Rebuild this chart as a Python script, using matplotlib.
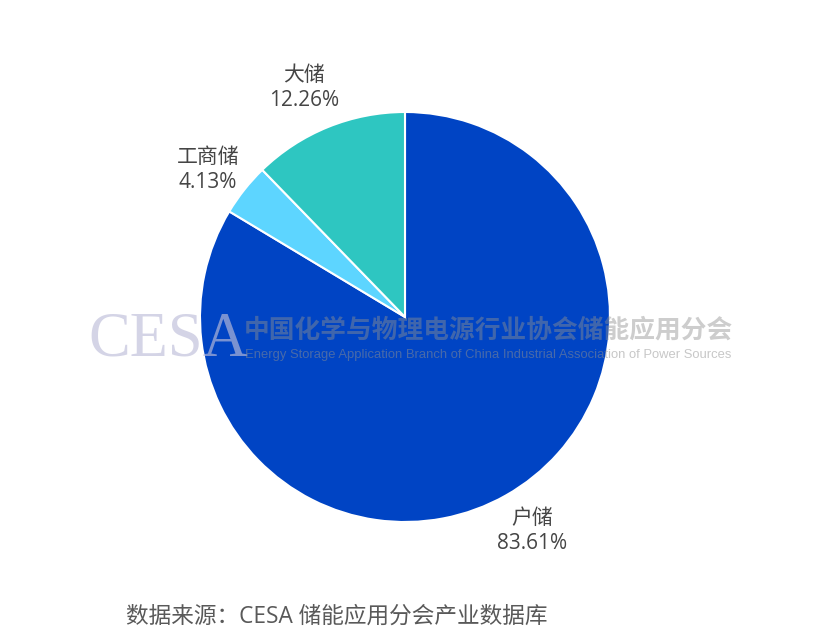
import matplotlib
matplotlib.use('Agg')
import matplotlib.pyplot as plt

plt.rcParams['font.family'] = ['Open Sans', 'Noto Sans CJK SC', 'DejaVu Sans']

# data
categories = ['户储', '工商储', '大储']
shares = [83.61, 4.13, 12.26]
colors = ['#0044C4', '#5DD5FF', '#2EC6C1']

W, H = 830, 642
fig = plt.figure(figsize=(W / 100, H / 100), dpi=100)
ax = fig.add_axes([0, 0, 1, 1])

# pie, clockwise from 12 o'clock
ax.pie(shares, colors=colors, startangle=90, counterclock=False,
       center=(405, H - 317), radius=205, frame=True,
       wedgeprops=dict(edgecolor='white', linewidth=1.5))
ax.set_xlim(0, W)
ax.set_ylim(0, H)
ax.axis('off')

# labels
label_pos = [(532, 531), (208, 170), (304, 88)]
for name, val, (x, y) in zip(categories, shares, label_pos):
    ax.text(x, H - y, f'{name}\n{val:.2f}%', ha='center', va='center',
            fontsize=15, color='#454545', linespacing=1.2)

# watermark
ax.text(88, H - 340, 'CESA', family='Liberation Serif', fontsize=45,
        color='#BDBDD9', alpha=0.65, ha='left', va='center', zorder=5)
ax.text(244, H - 330, '中国化学与物理电源行业协会储能应用分会', family='Noto Sans CJK SC',
        fontsize=18.5, fontweight='bold', color='#909090', alpha=0.45,
        ha='left', va='center', zorder=5)
ax.text(245, H - 355, 'Energy Storage Application Branch of China Industrial Association of Power Sources',
        family='Liberation Sans', fontsize=9.4, color='#909090', alpha=0.5,
        ha='left', va='center', zorder=5)

# source
ax.text(126, H - 617, '数据来源：CESA 储能应用分会产业数据库', fontsize=16.3,
        color='#595959', ha='left', va='center')

fig.savefig('out.png', dpi=100)
